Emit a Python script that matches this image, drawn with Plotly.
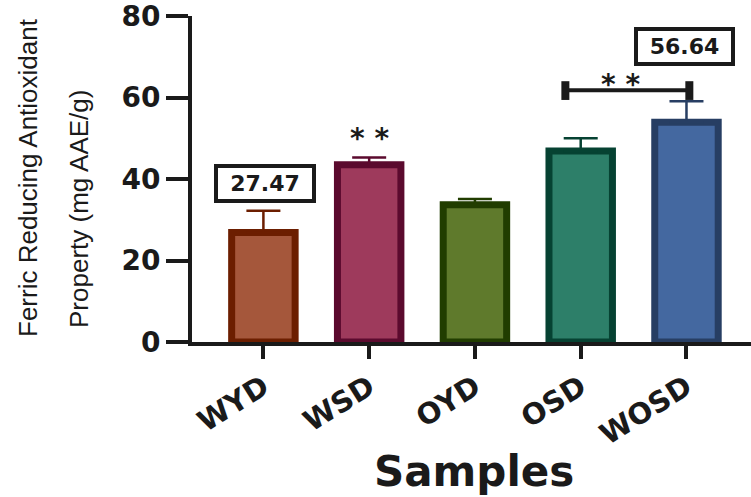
import plotly.graph_objects as go

categories = ["WYD", "WSD", "OYD", "OSD", "WOSD"]
means = [26.9, 43.5, 33.7, 46.9, 53.9]
errors = [5.3, 1.8, 1.4, 3.1, 5.2]
fill_colors = ["#A5573B", "#9E3A5C", "#5F7A2C", "#2D7F69", "#4468A0"]
edge_colors = ["#6C1E00", "#5B0A2E", "#213D00", "#064232", "#273E63"]
y_ticks = [0, 20, 40, 60, 80]

BOLD = "DejaVu Sans"
INK = "#1a1a1a"

fig = go.Figure()
for i, cat in enumerate(categories):
    fig.add_trace(go.Bar(
        x=[i], y=[means[i]], width=0.6,
        marker=dict(color=fill_colors[i], line=dict(color=edge_colors[i], width=7)),
        error_y=dict(type="data", array=[errors[i]], arrayminus=[0], symmetric=False,
                     color=edge_colors[i], thickness=2.5, width=17),
        showlegend=False, hoverinfo="skip",
    ))

fig.update_layout(
    width=751, height=497,
    margin=dict(l=192, r=0, t=16, b=155),
    paper_bgcolor="white", plot_bgcolor="white",
    barmode="overlay",
    xaxis=dict(
        range=[-0.675, 4.61], tickmode="array", tickvals=list(range(len(categories))),
        ticktext=categories, tickangle=-32, showline=True, linecolor=INK, linewidth=4,
        ticks="outside", ticklen=13, tickwidth=4, tickcolor=INK, automargin=False,
        tickfont=dict(family=BOLD, size=29, color=INK, weight="bold"),
        showgrid=False, zeroline=False, ticklabeloverflow="allow",
    ),
    yaxis=dict(
        range=[0, 80], tickvals=y_ticks, showline=True, linecolor=INK, linewidth=4,
        ticks="outside", ticklen=22, tickwidth=4, tickcolor=INK, automargin=False,
        tickfont=dict(family=BOLD, size=28, color=INK, weight="bold"),
        showgrid=False, zeroline=False, ticklabeloverflow="allow",
    ),
)

# axis titles
fig.add_annotation(xref="paper", yref="paper", x=(474 - 192) / 559, y=-(471 - 342) / 326,
                   text="<b>Samples</b>", showarrow=False, yanchor="middle",
                   font=dict(family=BOLD, size=42, color=INK))
fig.add_annotation(xref="paper", yref="paper", x=-(192 - 28) / 559, y=(342 - 178) / 326,
                   text="Ferric Reducing Antioxidant", textangle=-90, showarrow=False,
                   xanchor="center", yanchor="middle",
                   font=dict(family="Liberation Sans", size=26, color=INK))
fig.add_annotation(xref="paper", yref="paper", x=-(192 - 79) / 559, y=(342 - 209) / 326,
                   text="Property (mg AAE/g)", textangle=-90, showarrow=False,
                   xanchor="center", yanchor="middle",
                   font=dict(family="Liberation Sans", size=26, color=INK))

# boxed value labels
fig.add_annotation(x=0.015, y=38.8, text="<b>27.47</b>", showarrow=False,
                   bordercolor=INK, borderwidth=4, bgcolor="white", width=92, height=29,
                   font=dict(family=BOLD, size=22, color=INK))
fig.add_annotation(x=3.98, y=72.6, text="<b>56.64</b>", showarrow=False,
                   bordercolor=INK, borderwidth=4, bgcolor="white", width=91, height=29,
                   font=dict(family=BOLD, size=22, color=INK))

# significance stars
fig.add_annotation(x=1.0, y=(342 - 138) / 4.075, text="<b>* *</b>", showarrow=False,
                   font=dict(family=BOLD, size=28, color=INK))
fig.add_annotation(x=3.38, y=(342 - 84) / 4.075, text="<b>* *</b>", showarrow=False,
                   font=dict(family=BOLD, size=28, color=INK))

# bracket
fig.add_shape(type="line", x0=2.855, x1=4.027, y0=61.8, y1=61.8, line=dict(color=INK, width=4))
fig.add_shape(type="line", x0=2.855, x1=2.855, y0=59.4, y1=64.0, line=dict(color=INK, width=8))
fig.add_shape(type="line", x0=4.027, x1=4.027, y0=59.4, y1=64.0, line=dict(color=INK, width=8))

fig.write_html("out.html", config={"displayModeBar": False},
               post_script="document.body.style.margin='0px';")
